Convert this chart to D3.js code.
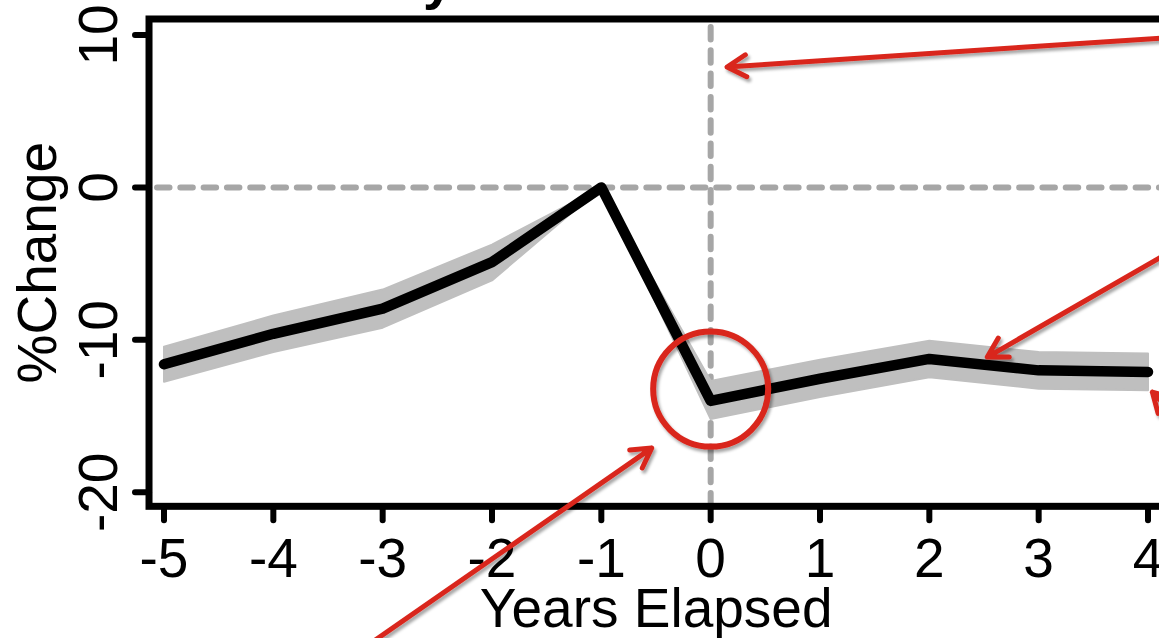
<!DOCTYPE html>
<html>
<head>
<meta charset="utf-8">
<script src="https://cdn.jsdelivr.net/npm/d3@7"></script>
<style>
  body { margin: 0; background: #fff; }
  svg { display: block; }
</style>
</head>
<body>
<div id="chart"></div>
<script>
const FRAME_WIDTH = 1159;
const FRAME_HEIGHT = 638;
const FONT = "'Liberation Sans', Arial, Helvetica, sans-serif";

// data
const YEARS = [-5, -4, -3, -2, -1, 0, 1, 2, 3, 4];
const CHANGE = [-11.6, -9.6, -7.95, -4.9, 0, -14.0, -12.55, -11.25, -12.0, -12.1];
const LOWER = [-12.75, -10.8, -9.2, -6.1, 0, -15.2, -13.75, -12.45, -13.2, -13.3];
const UPPER = [-10.45, -8.4, -6.7, -3.75, 0, -12.7, -11.3, -10.05, -10.8, -10.9];

const X_TICKS = [-5, -4, -3, -2, -1, 0, 1, 2, 3, 4];
const Y_TICKS = [-20, -10, 0, 10];

// red call-outs, in data units: [tailX, tailY, tipX, tipY]
const ARROWS = [
  [4.48, 9.97, 0.15, 7.9],
  [4.66, -2.34, 2.53, -11.13],
  [-3.39, -31.3, -0.54, -17.1],
  [4.75, -18.5, 4.04, -13.43]
];
const CIRCLE = [0, -13.23];

const X_SCALE = d3.scaleLinear().domain([-5, 4]).range([164, 1148]);
const Y_SCALE = d3.scaleLinear().domain([-20, 10]).range([492.3, 35]);

const X_LIM = [-5.137, 4.14];
const Y_LIM = [-20.92, 11.05];

const data = YEARS.map((d, i) => {
  return { year: d, change: CHANGE[i], lo: LOWER[i], hi: UPPER[i] };
});

const svg = d3
  .select("#chart")
  .append("svg")
  .attr("width", FRAME_WIDTH)
  .attr("height", FRAME_HEIGHT);

const defs = svg.append("defs");
defs.append("filter")
  .attr("id", "shadow")
  .attr("x", "-20%").attr("y", "-20%")
  .attr("width", "140%").attr("height", "140%")
  .append("feDropShadow")
  .attr("dx", 2)
  .attr("dy", 3)
  .attr("stdDeviation", 1.8)
  .attr("flood-color", "#000")
  .attr("flood-opacity", 0.35);

const plotLeft = X_SCALE(X_LIM[0]);
const plotRight = X_SCALE(X_LIM[1]);
const plotTop = Y_SCALE(Y_LIM[1]);
const plotBottom = Y_SCALE(Y_LIM[0]);

// dashed reference lines
svg.append("line")
  .attr("x1", plotLeft).attr("x2", plotRight)
  .attr("y1", Y_SCALE(0)).attr("y2", Y_SCALE(0))
  .attr("stroke", "#a6a6a6")
  .attr("stroke-width", 6)
  .attr("stroke-linecap", "round")
  .attr("stroke-dasharray", "12.5,10.8")
  .attr("stroke-dashoffset", -8);

svg.append("line")
  .attr("x1", X_SCALE(0)).attr("x2", X_SCALE(0))
  .attr("y1", plotTop + 8).attr("y2", plotBottom)
  .attr("stroke", "#a6a6a6")
  .attr("stroke-width", 6)
  .attr("stroke-linecap", "round")
  .attr("stroke-dasharray", "12.5,10.8");

// confidence band
const area = d3.area()
  .x((d) => X_SCALE(d.year))
  .y0((d) => Y_SCALE(d.lo))
  .y1((d) => Y_SCALE(d.hi));

svg.append("path")
  .datum(data)
  .attr("d", area)
  .attr("fill", "#bfbfbf")
  .attr("stroke", "#bfbfbf")
  .attr("stroke-width", 2)
  .attr("stroke-linejoin", "round");

// estimate line
const line = d3.line()
  .x((d) => X_SCALE(d.year))
  .y((d) => Y_SCALE(d.change));

svg.append("path")
  .datum(data)
  .attr("d", line)
  .attr("fill", "none")
  .attr("stroke", "#000")
  .attr("stroke-width", 10.5)
  .attr("stroke-linejoin", "round")
  .attr("stroke-linecap", "round");

// box
svg.append("rect")
  .attr("x", plotLeft)
  .attr("y", plotTop)
  .attr("width", plotRight - plotLeft)
  .attr("height", plotBottom - plotTop)
  .attr("fill", "none")
  .attr("stroke", "#000")
  .attr("stroke-width", 7);

// x axis ticks + labels
svg.selectAll(".xtick")
  .data(X_TICKS)
  .enter()
  .append("line")
  .attr("class", "xtick")
  .attr("x1", (d) => X_SCALE(d)).attr("x2", (d) => X_SCALE(d))
  .attr("y1", plotBottom).attr("y2", plotBottom + 14)
  .attr("stroke", "#000")
  .attr("stroke-width", 6)
  .attr("stroke-linecap", "round");

svg.selectAll(".xlab")
  .data(X_TICKS)
  .enter()
  .append("text")
  .attr("class", "xlab")
  .attr("x", (d) => X_SCALE(d))
  .attr("y", 577)
  .attr("text-anchor", "middle")
  .attr("font-family", FONT)
  .attr("font-size", "55px")
  .text((d) => d);

// y axis ticks + labels
svg.selectAll(".ytick")
  .data(Y_TICKS)
  .enter()
  .append("line")
  .attr("class", "ytick")
  .attr("x1", plotLeft).attr("x2", plotLeft - 14)
  .attr("y1", (d) => Y_SCALE(d)).attr("y2", (d) => Y_SCALE(d))
  .attr("stroke", "#000")
  .attr("stroke-width", 6)
  .attr("stroke-linecap", "round");

svg.selectAll(".ylab")
  .data(Y_TICKS)
  .enter()
  .append("text")
  .attr("class", "ylab")
  .attr("transform", (d) => "translate(117," + Y_SCALE(d) + ") rotate(-90)")
  .attr("text-anchor", "middle")
  .attr("font-family", FONT)
  .attr("font-size", "55px")
  .text((d) => d);

// axis titles
svg.append("text")
  .attr("x", (plotLeft + plotRight) / 2)
  .attr("y", 627)
  .attr("text-anchor", "middle")
  .attr("font-family", FONT)
  .attr("font-size", "55px")
  .text("Years Elapsed");

svg.append("text")
  .attr("transform", "translate(56," + (plotTop + plotBottom) / 2 + ") rotate(-90)")
  .attr("text-anchor", "middle")
  .attr("font-family", FONT)
  .attr("font-size", "55px")
  .text("%Change");

// clipped title remnant at the very top
svg.append("text")
  .attr("x", 423)
  .attr("y", -2)
  .attr("font-family", FONT)
  .attr("font-weight", "bold")
  .attr("font-size", "55px")
  .text("y");

// red annotations
const RED = "#d9261c";
const notes = svg.append("g").attr("filter", "url(#shadow)");

notes.append("circle")
  .attr("cx", X_SCALE(CIRCLE[0]))
  .attr("cy", Y_SCALE(CIRCLE[1]))
  .attr("r", 57.5)
  .attr("fill", "none")
  .attr("stroke", RED)
  .attr("stroke-width", 6);

ARROWS.forEach((a) => {
  const x0 = X_SCALE(a[0]), y0 = Y_SCALE(a[1]);
  const x1 = X_SCALE(a[2]), y1 = Y_SCALE(a[3]);
  const ang = Math.atan2(y0 - y1, x0 - x1);
  const len = 22, spread = Math.PI / 6;
  const p = d3.path();
  p.moveTo(x0, y0);
  p.lineTo(x1, y1);
  p.moveTo(x1 + len * Math.cos(ang - spread), y1 + len * Math.sin(ang - spread));
  p.lineTo(x1, y1);
  p.lineTo(x1 + len * Math.cos(ang + spread), y1 + len * Math.sin(ang + spread));
  notes.append("path")
    .attr("d", p.toString())
    .attr("fill", "none")
    .attr("stroke", RED)
    .attr("stroke-width", 5)
    .attr("stroke-linecap", "round")
    .attr("stroke-linejoin", "round");
});
</script>
</body>
</html>
